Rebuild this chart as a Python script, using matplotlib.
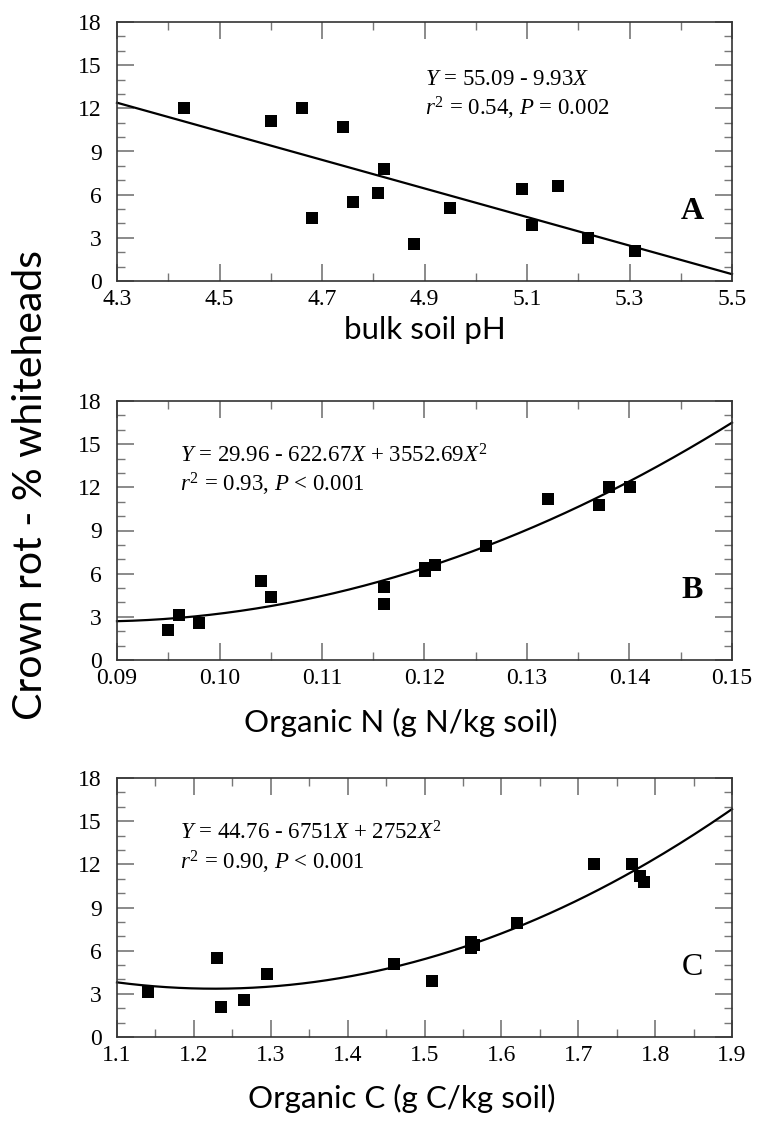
import numpy as np
import matplotlib
matplotlib.use("Agg")
import matplotlib.pyplot as plt
from matplotlib.ticker import MultipleLocator

# ---- data ----
ph_x = [4.43, 4.60, 4.66, 4.68, 4.74, 4.76, 4.81, 4.82, 4.88, 4.95, 5.09, 5.11, 5.16, 5.22, 5.31]
ph_y = [12.0, 11.1, 12.0, 4.4, 10.7, 5.5, 6.1, 7.8, 2.6, 5.1, 6.4, 3.9, 6.6, 3.0, 2.1]

orgn_x = [0.095, 0.096, 0.098, 0.104, 0.105, 0.116, 0.116, 0.120, 0.120, 0.121, 0.126, 0.132, 0.137, 0.138, 0.140]
orgn_y = [2.1, 3.1, 2.6, 5.5, 4.4, 5.1, 3.9, 6.2, 6.4, 6.6, 7.9, 11.2, 10.8, 12.0, 12.0]

orgc_x = [1.14, 1.23, 1.235, 1.265, 1.295, 1.46, 1.51, 1.56, 1.56, 1.565, 1.62, 1.72, 1.77, 1.78, 1.785]
orgc_y = [3.1, 5.5, 2.1, 2.6, 4.4, 5.1, 3.9, 6.2, 6.6, 6.4, 7.9, 12.0, 12.0, 11.2, 10.8]

# fitted equations printed on the panels
coef_a = [55.09, -9.93]
coef_b = [29.96, -622.67, 3552.69]
coef_c = [44.76, -67.51, 27.52]

eq_a = [r"$Y$ = 55.09 - 9.93$X$", r"$r^2$ = 0.54, $P$ = 0.002"]
eq_b = [r"$Y$ = 29.96 - 622.67$X$ + $3552.69X^2$", r"$r^2$ = 0.93, $P$ < 0.001"]
eq_c = [r"$Y$ = 44.76 - 6751$X$ + 2752$X^2$", r"$r^2$ = 0.90, $P$ < 0.001"]

plt.rcParams["mathtext.fontset"] = "custom"
plt.rcParams["mathtext.rm"] = "Liberation Serif"
plt.rcParams["mathtext.it"] = "Liberation Serif:italic"
plt.rcParams["font.family"] = "Liberation Serif"

fig = plt.figure(figsize=(7.57, 11.23), dpi=100)

L, W = 117 / 757, 615 / 757
H = 259 / 1123
boxes = [
    [L, 1 - 281 / 1123, W, H],
    [L, 1 - 660 / 1123, W, H],
    [L, 1 - 1037 / 1123, W, H],
]

panels = [
    dict(x=ph_x, y=ph_y, coef=coef_a, xlim=(4.3, 5.5), major=0.2, minor=0.1,
         fmt="{:.1f}", eq=eq_a, eqpos=(4.90, 14.0, 12.0), letter="A", bold=True),
    dict(x=orgn_x, y=orgn_y, coef=coef_b, xlim=(0.09, 0.15), major=0.01, minor=0.005,
         fmt="{:.2f}", eq=eq_b, eqpos=(0.0961, 14.2, 12.2), letter="B", bold=True),
    dict(x=orgc_x, y=orgc_y, coef=coef_c, xlim=(1.1, 1.9), major=0.1, minor=0.05,
         fmt="{:.1f}", eq=eq_c, eqpos=(1.182, 14.2, 12.15), letter="C", bold=False),
]

for box, p in zip(boxes, panels):
    ax = fig.add_axes(box)
    ax.scatter(p["x"], p["y"], marker="s", s=72, color="black", zorder=3, linewidths=0)
    xx = np.linspace(p["xlim"][0], p["xlim"][1], 200)
    yy = sum(c * xx ** i for i, c in enumerate(p["coef"]))
    ax.plot(xx, yy, color="black", lw=1.6, zorder=2, clip_on=False)
    ax.set_xlim(*p["xlim"])
    ax.set_ylim(0, 18)
    ax.xaxis.set_minor_locator(MultipleLocator(p["minor"]))
    ax.yaxis.set_major_locator(MultipleLocator(3))
    ax.yaxis.set_minor_locator(MultipleLocator(1))
    ticks = np.arange(p["xlim"][0], p["xlim"][1] + p["major"] / 2, p["major"])
    ax.set_xticks(ticks)
    ax.set_xticklabels([p["fmt"].format(t) for t in ticks])
    ax.tick_params(which="both", direction="in", top=True, right=True,
                   color="#777777", labelsize=17, labelcolor="black")
    ax.tick_params(which="major", length=12, width=1.2)
    ax.tick_params(which="minor", length=6, width=1.0)
    ax.tick_params(axis="y", pad=11)
    ax.tick_params(axis="x", pad=6)
    for s in ax.spines.values():
        s.set_color("#333333")
        s.set_linewidth(1.2)
    ex, ey1, ey2 = p["eqpos"]
    ax.text(ex, ey1, p["eq"][0], fontsize=16.5, va="center", ha="left")
    ax.text(ex, ey2, p["eq"][1], fontsize=16.5, va="center", ha="left")
    ax.text(0.935, 0.27, p["letter"], transform=ax.transAxes, fontsize=23,
            fontweight="bold" if p["bold"] else "normal", ha="center", va="center")

# axis titles
fig.text(425 / 757, 1 - 330 / 1123, "bulk soil pH", family="Lato", fontsize=22.5,
         ha="center", va="center")
fig.text(401 / 757, 1 - 722 / 1123, "Organic N (g N/kg soil)", family="Lato", fontsize=22.5,
         ha="center", va="center")
fig.text(402 / 757, 1 - 1098 / 1123, "Organic C (g C/kg soil)", family="Lato", fontsize=22.5,
         ha="center", va="center")
fig.text(31 / 757, 1 - 485 / 1123, "Crown rot - % whiteheads", family="Lato", fontsize=29.5,
         ha="center", va="center", rotation=90)

fig.savefig("out.png", dpi=100)
